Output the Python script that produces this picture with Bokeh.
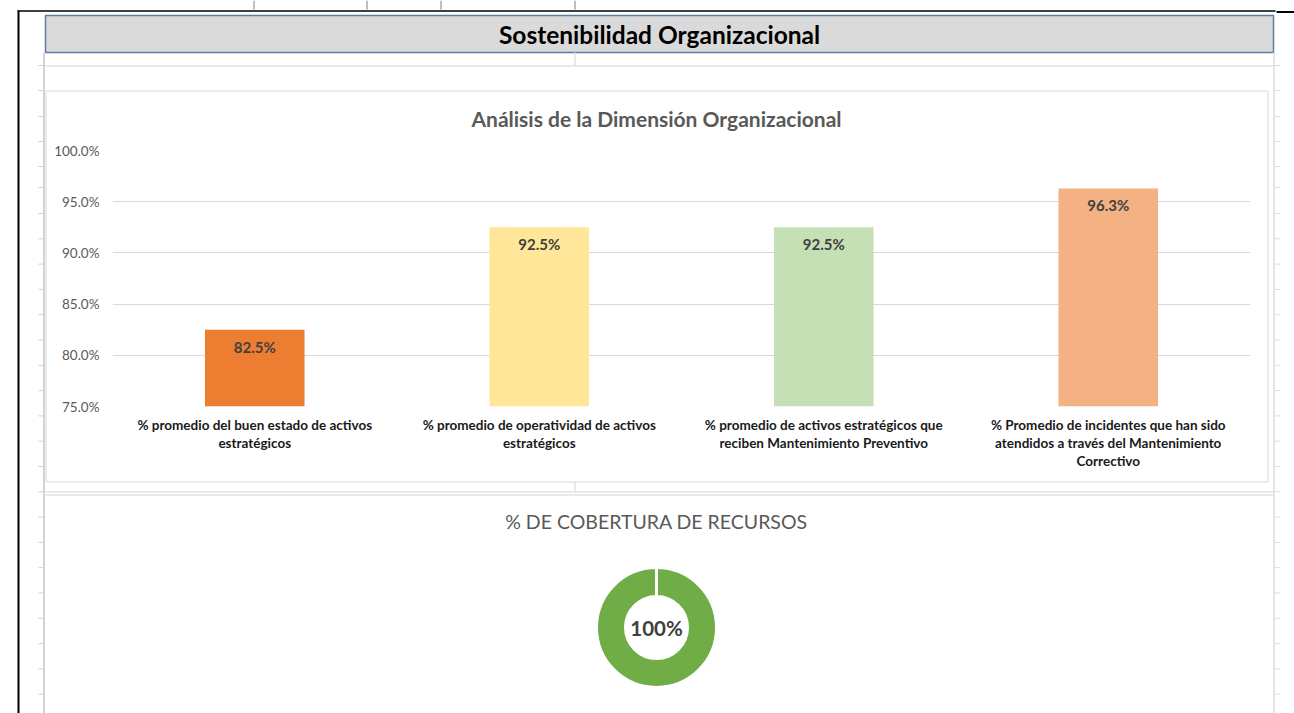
import math
from bokeh.plotting import figure
from bokeh.models import Range1d, FactorRange, SingleIntervalTicker, PrintfTickFormatter, GridBox
from bokeh.core.properties import value
from bokeh.embed import file_html
from bokeh.resources import INLINE

# ---------------- data ----------------
page_title = "Sostenibilidad Organizacional"
bar_title = "Análisis de la Dimensión Organizacional"
categories = [
    "% promedio del buen estado de activos\nestratégicos",
    "% promedio de operatividad de activos\nestratégicos",
    "% promedio de activos estratégicos que\nreciben Mantenimiento Preventivo",
    "% Promedio de incidentes que han sido\natendidos a través del Mantenimiento\nCorrectivo",
]
values = [82.5, 92.5, 92.5, 96.3]
bar_colors = ["#ED7D31", "#FFE699", "#C5E0B4", "#F4B183"]
y_min, y_max, y_step = 75, 100, 5

donut_title = "% DE COBERTURA DE RECURSOS"
coverage = [100, 0]          # covered, not covered (%)
donut_colors = ["#70AD47", "#E7E6E6"]

FONT = "Lato"
W, H = 1294, 713

# ---------------- page (spreadsheet background, header, donut) ----------------
page = figure(width=W, height=H, x_range=Range1d(0, W), y_range=Range1d(H, 0),
              min_border=0, toolbar_location=None, output_backend="svg",
              x_axis_location=None, y_axis_location=None, frame_align=False)
page.grid.visible = False
page.outline_line_color = None
page.background_fill_color = "white"
page.border_fill_color = "white"

rows_y = [65, 90, 116, 141, 166, 187] + [213 + 25.3 * k for k in range(20)]


def seg(lines, color, width):
    page.segment([l[0] for l in lines], [l[1] for l in lines], [l[2] for l in lines],
                 [l[3] for l in lines], line_color=color, line_width=width)


page.quad(left=[45], right=[1273], top=[15], bottom=[52], fill_color="#DADADA",
          line_color="#5B7FA6", line_width=1.5)
seg([(43.5, 52, 43.5, H)], "#C4C4C4", 1.5)
seg([(38, y, 43, y) for y in rows_y], "#CFCFCF", 1)
seg([(1273.5, 52, 1273.5, H)], "#DCDCDC", 1.5)
seg([(1274, y, 1280, y) for y in rows_y], "#DCDCDC", 1)
seg([(45, 65.5, 1273, 65.5), (574.5, 52, 574.5, 65), (45, 491.5, 1273, 491.5),
     (45, 494.5, 1273, 494.5), (574.5, 481, 574.5, 491)], "#E2E2E2", 1.5)
page.quad(left=[45.5], right=[1267.5], top=[90.5], bottom=[481.5], fill_color=None,
          line_color="#D9D9D9", line_width=1)
seg([(18, 10, 18, H)], "black", 2)
seg([(17, 10.5, 1275, 10.5)], "black", 1.5)
seg([(1276, 11.5, 1294, 11.5)], "black", 2)
seg([(x, 0, x, 9) for x in (253.5, 366.5, 440.5, 574.5)], "#808080", 1)

page.text(x=[659], y=[34], text=[page_title], text_align="center", text_baseline="middle",
          text_font=value(FONT), text_font_style="bold", text_font_size="24.5px", text_color="black")
page.text(x=[656], y=[118], text=[bar_title], text_align="center", text_baseline="middle",
          text_font=value(FONT), text_font_style="bold", text_font_size="21px", text_color="#595959")

page.text(x=[656], y=[521], text=[donut_title], text_align="center", text_baseline="middle",
          text_font=value(FONT), text_font_size="19.5px", text_color="#595959")
start = math.pi / 2
for val, col in zip(coverage, donut_colors):
    if val <= 0:
        continue
    end = start - 2 * math.pi * val / 100
    page.annular_wedge(x=[656], y=[627], inner_radius=31, outer_radius=60,
                       start_angle=[start], end_angle=[end], direction="clock",
                       fill_color=col, line_color="white", line_width=3)
    start = end
page.text(x=[656], y=[627], text=[f"{coverage[0]}%"], text_align="center", text_baseline="middle",
          text_font=value(FONT), text_font_size="20.5px", text_font_style="bold", text_color="#404040")

# ---------------- bar chart (overlaid) ----------------
TOP_H, MID_H = 140, 341
bar = figure(width=1222, height=MID_H, x_range=FactorRange(*categories), y_range=Range1d(y_min, y_max),
             toolbar_location=None, output_backend="svg", frame_align=False,
             min_border_left=67, min_border_right=17, min_border_top=10, min_border_bottom=75)
bar.background_fill_alpha = 0
bar.border_fill_alpha = 0
bar.outline_line_color = None
bar.vbar(x=categories, top=values, bottom=y_min, width=0.35, fill_color=bar_colors, line_color=None)
bar.text(x=categories, y=values, text=[f"{v:.1f}%" for v in values], text_align="center",
         text_baseline="middle", y_offset=17, text_font=value(FONT), text_font_style="bold",
         text_font_size="15px", text_color="#404040")
bar.xgrid.visible = False
bar.ygrid.grid_line_color = "#D9D9D9"
bar.ygrid.grid_line_width = 1
bar.yaxis.ticker = SingleIntervalTicker(interval=y_step)
bar.yaxis.formatter = PrintfTickFormatter(format="%.1f%%")
for ax in (bar.xaxis[0], bar.yaxis[0]):
    ax.axis_line_color = None
    ax.major_tick_line_color = None
    ax.minor_tick_line_color = None
    ax.major_label_text_font = FONT
bar.yaxis.major_label_text_font_size = "13.5px"
bar.yaxis.major_label_text_color = "#595959"
bar.yaxis.major_label_standoff = 7
bar.xaxis.major_label_text_font_size = "13.5px"
bar.xaxis.major_label_text_font_style = "bold"
bar.xaxis.major_label_text_color = "#1A1A1A"
bar.xaxis.major_label_text_line_height = 1.14
bar.xaxis.major_label_standoff = 4
bar.xaxis.group_text_font_size = "0px"

layout = GridBox(children=[(page, 0, 0, 3, 3), (bar, 1, 1)],
                 rows=[f"{TOP_H}px", f"{MID_H}px", f"{H - TOP_H - MID_H}px"],
                 cols=["45px", "1222px", f"{W - 1267}px"], spacing=0)
open("out.html", "w").write(file_html(layout, INLINE))
